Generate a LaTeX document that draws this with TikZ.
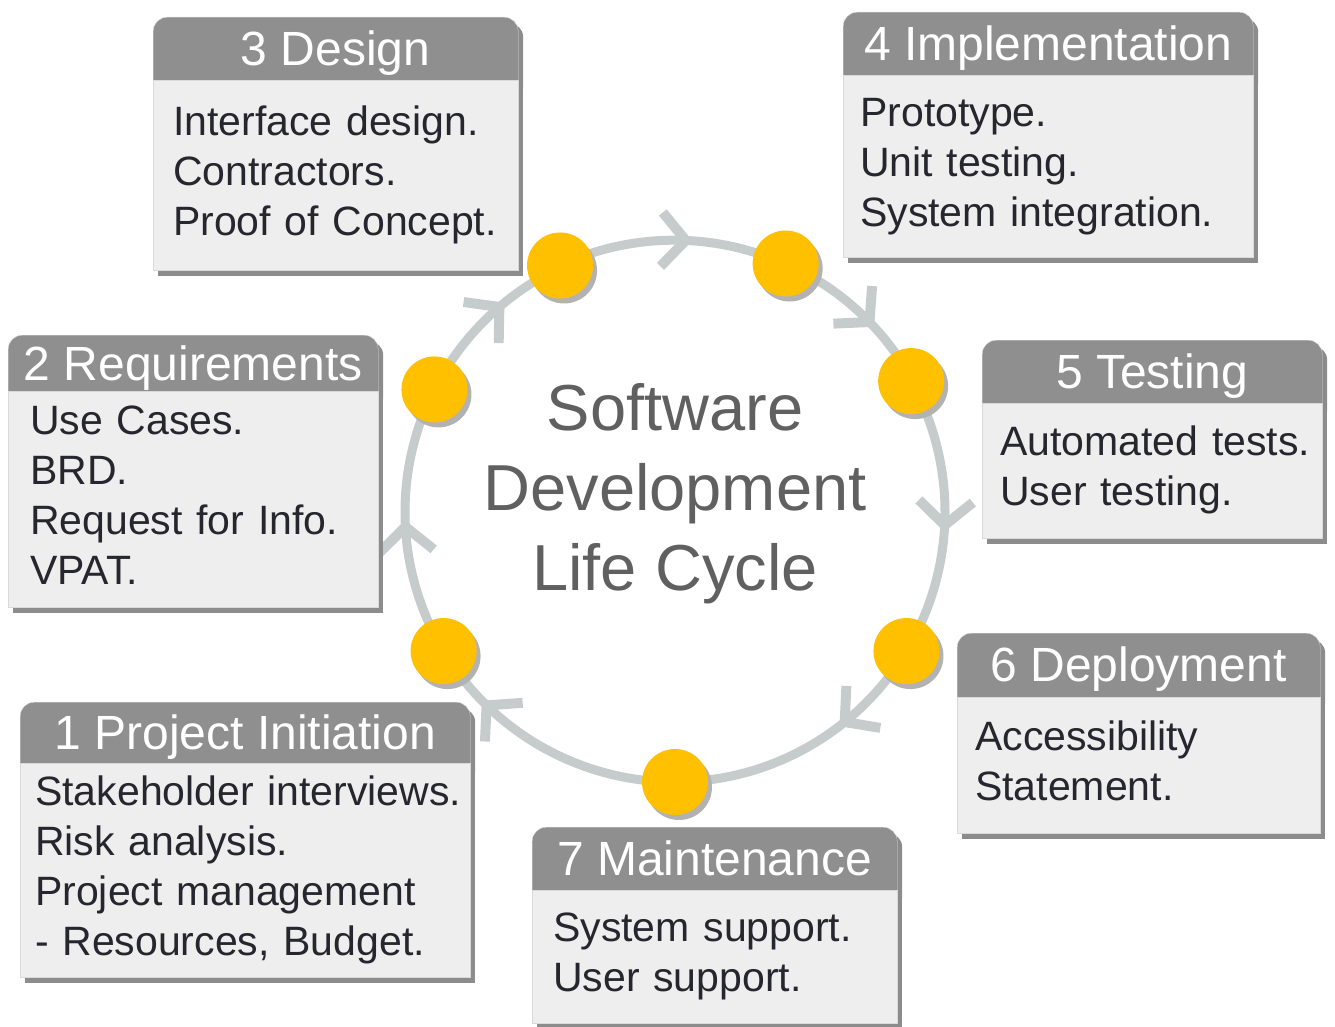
\documentclass[tikz,border=0pt]{standalone}
\usepackage{fontspec}
\setmainfont{Liberation Sans}
\usetikzlibrary{calc,shadows,decorations.markings}

\definecolor{headgray}{RGB}{143,143,143}
\definecolor{bodygray}{RGB}{238,238,238}
\definecolor{ringgray}{RGB}{198,203,203}
\definecolor{dotgold}{RGB}{255,192,0}
\definecolor{textdark}{RGB}{38,38,46}
\definecolor{titlegray}{RGB}{96,96,96}

\pgfdeclarelayer{ringlayer}
\pgfsetlayers{ringlayer,main}

% one line per row, never broken
\newcommand{\boxlines}[1]{\begin{tabular}{@{}l@{}}#1\end{tabular}}

\tikzset{
  boxshadow/.style={drop shadow={shadow xshift=5pt, shadow yshift=-6pt, fill=black!45, opacity=1}},
  head/.style={boxshadow, fill=headgray, draw=black!15, rounded corners=14pt, anchor=north west,
    inner sep=0pt, text=white, text height=48.7pt, text depth=28.3pt,
    font=\fontsize{48pt}{56pt}\selectfont},
  body/.style={boxshadow, fill=bodygray, draw=black!15, anchor=north west, inner ysep=0pt,
    align=left, text=textdark, font=\fontsize{41pt}{50pt}\selectfont},
  dot/.style={circle, fill=dotgold, minimum size=66pt, inner sep=0pt,
    drop shadow={shadow xshift=4pt, shadow yshift=-5pt, fill=black!30, opacity=1}},
  ring/.style={draw=ringgray, line width=9pt, postaction={decorate},
    decoration={markings, mark=at position #1 with
      {\fill[ringgray] (6.7pt,0pt) -- (-20.3pt,30.3pt) -- (-27.7pt,23.7pt) -- (-6.7pt,0pt)
         -- (-27.7pt,-23.7pt) -- (-20.3pt,-30.3pt) -- cycle;}}},
  ring/.default=0.55,
  title/.style={align=center, font=\fontsize{65pt}{80pt}\selectfont}
}

\begin{document}
\begin{tikzpicture}[x=1pt, y=1pt]
    \useasboundingbox (0,0) rectangle (1335,-1027);

    % phase boxes
    \node[head, minimum width=450pt, text height=47.7pt, text depth=27.3pt] (h1) at (20,-702) {1 Project Initiation};
    \node[body, minimum width=450pt, minimum height=214pt, text width=420pt, inner xsep=15pt] (b1) at (20,-763)
        {\boxlines{Stakeholder interviews.\\Risk analysis.\\Project management\\- Resources, Budget.}};

    \node[head, minimum width=370pt, text height=45.2pt, text depth=24.8pt] (h2) at (8,-335) {2 Requirements};
    \node[body, minimum width=370pt, minimum height=216pt, text width=326pt, inner xsep=22pt] (b2) at (8,-391)
        {\boxlines{Use Cases.\\BRD.\\Request for Info.\\VPAT.}};

    \node[head, minimum width=365pt] (h3) at (153,-17) {3 Design};
    \node[body, minimum width=365pt, minimum height=190pt, text width=325pt, inner xsep=20pt] (b3) at (153,-80)
        {\boxlines{Interface design.\\Contractors.\\Proof of Concept.}};

    \node[head, minimum width=410pt] (h4) at (843,-12) {4 Implementation};
    \node[body, minimum width=410pt, minimum height=182pt, text width=376pt, inner xsep=17pt] (b4) at (843,-75)
        {\boxlines{Prototype.\\Unit testing.\\System integration.}};

    \node[head, minimum width=340pt] (h5) at (982,-340) {5 Testing};
    \node[body, minimum width=340pt, minimum height=135pt, text width=304pt, inner xsep=18pt] (b5) at (982,-403)
        {\boxlines{Automated tests.\\User testing.}};

    \node[head, minimum width=363pt] (h6) at (957,-633) {6 Deployment};
    \node[body, minimum width=363pt, minimum height=136pt, text width=327pt, inner xsep=18pt] (b6) at (957,-697)
        {\boxlines{Accessibility\\Statement.}};

    \node[head, minimum width=365pt] (h7) at (532,-827) {7 Maintenance};
    \node[body, minimum width=365pt, minimum height=133pt, text width=323pt, inner xsep=21pt] (b7) at (532,-890)
        {\boxlines{System support.\\User support.}};

    % title in the middle of the cycle
    \node[title, text=titlegray] (title) at (675,-494) {Software\\Development\\Life Cycle};

    % cycle dots
    \coordinate (C) at (675,-512);
    \node[dot] (d1) at ($(C)+(211:270)$) {};
    \node[dot] (d2) at ($(C)+(153:270)$) {};
    \node[dot] (d3) at ($(C)+(115:272)$) {};
    \node[dot] (d4) at ($(C)+(66:272)$) {};
    \node[dot] (d5) at ($(C)+(29:270)$) {};
    \node[dot] (d6) at ($(C)+(-31:270)$) {};
    \node[dot] (d7) at ($(C)+(-90:270)$) {};

    \begin{pgfonlayer}{ringlayer}
        \draw[ring=0.48] (d1.center) arc[start angle=211, end angle=153, radius=270];
        \draw[ring=0.59] (d2.center) arc[start angle=153, end angle=115, radius=270];
        \draw[ring=0.56] (d3.center) arc[start angle=115, end angle=66, radius=270];
        \draw[ring=0.59] (d4.center) arc[start angle=66, end angle=29, radius=270];
        \draw[ring=0.53] (d5.center) arc[start angle=29, end angle=-31, radius=270];
        \draw[ring=0.34] (d6.center) arc[start angle=-31, end angle=-90, radius=270];
        \draw[ring=0.75] (d7.center) arc[start angle=-90, end angle=-149, radius=270];
    \end{pgfonlayer}
\end{tikzpicture}
\end{document}
